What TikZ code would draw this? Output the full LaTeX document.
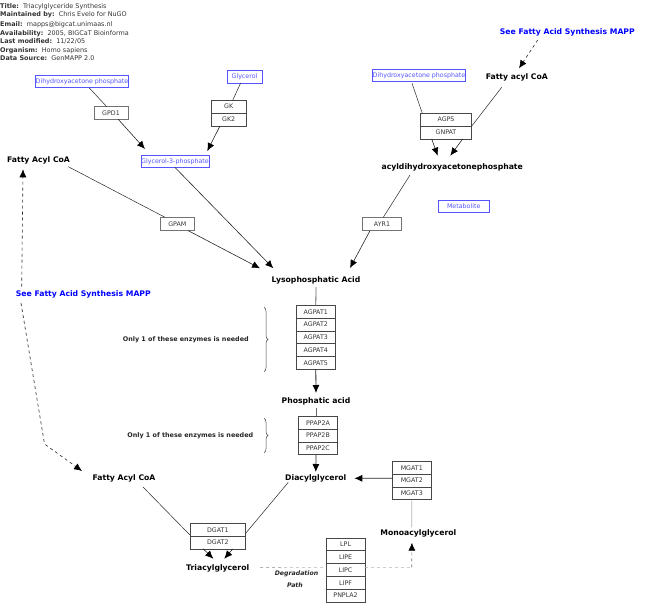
\documentclass[tikz,border=0pt]{standalone}
\usepackage{fontspec}
\setmainfont{DejaVu Sans}
\usepackage{xcolor}
\usepackage{tikz}
\usetikzlibrary{positioning, arrows.meta, decorations.pathreplacing}
\definecolor{metablue}{RGB}{85,85,255}
\tikzset{
    gene/.style={draw=black!72, line width=0.7pt, outer sep=0pt, minimum height=12.8pt, inner xsep=0pt, inner ysep=0pt, font=\fontsize{6.3}{7}\selectfont, text=black!80},
    lone/.style={gene, draw=black!55},
    metab/.style={draw=metablue, line width=0.7pt, outer sep=0pt, minimum height=12.3pt, inner xsep=0pt, inner ysep=0pt, font=\fontsize{6.3}{7}\selectfont, text=metablue},
    chem/.style={inner sep=0pt, yshift=-0.5pt, font=\fontsize{7.7}{9}\selectfont\bfseries},
    mapp/.style={inner sep=0pt, yshift=-0.5pt, font=\fontsize{7.7}{9}\selectfont\bfseries, text=blue},
    note/.style={inner sep=0pt, font=\fontsize{6.4}{7}\selectfont\bfseries, text=black!85},
    info/.style={inner sep=0pt, anchor=west, font=\fontsize{6.45}{7}\selectfont, text=black!80},
    link/.style={line width=0.5pt, black!85},
    react/.style={line width=0.6pt, black!85, -{Latex[length=8pt, width=7pt, black]}},
    trunk/.style={line width=0.8pt, black!60},
    dashreact/.style={react, dashed},
    pale/.style={line width=0.6pt, black!30},
    curly/.style={line width=0.5pt, black!75, decorate, decoration={brace, amplitude=4pt}}
}
\begin{document}
\begin{tikzpicture}[x=1pt, y=-1pt]
    \useasboundingbox (0,0) rectangle (655,611);
    \node[info] (title) at (0,6.5) {\textbf{Title:}\ \ Triacylglyceride Synthesis};
    \node[info] (maintainer) at (0,15.2) {\textbf{Maintained by:}\ \ Chris Evelo for NuGO};
    \node[info] (email) at (0,24.3) {\textbf{Email:}\ \ mapps@bigcat.unimaas.nl};
    \node[info] (avail) at (0,33.5) {\textbf{Availability:}\ \ 2005, BIGCaT Bioinforma};
    \node[info] (modified) at (0,41.8) {\textbf{Last modified:}\ \ 11/22/05};
    \node[info] (organism) at (0,50.7) {\textbf{Organism:}\ \ Homo sapiens};
    \node[info] (source) at (0,58.5) {\textbf{Data Source:}\ \ GenMAPP 2.0};

    \node[metab, minimum width=92pt] (dhapa) at (82,81.5) {Dihydroxyacetone phosphate};
    \node[lone, minimum width=34pt] (gpd) at (111,113) {GPD1};
    \node[metab, minimum width=35pt] (glycerol) at (244.5,76.7) {Glycerol};
    \node[gene, minimum width=35pt] (gk) at (228.7,106.7) {GK};
    \node[gene, minimum width=35pt, below = 0pt of gk] (gktwo) {GK2};
    \node[metab, minimum width=68pt] (gthreep) at (175,161.3) {Glycerol-3-phosphate};
    \node[chem] (acyla) at (38.5,160) {Fatty Acyl CoA};
    \node[lone, minimum width=34pt, minimum height=13.4pt] (gpam) at (177.3,224) {GPAM};

    \node[mapp] (mappa) at (567.3,32) {See Fatty Acid Synthesis MAPP};
    \node[chem] (acylb) at (516.8,76.7) {Fatty acyl CoA};
    \node[metab, minimum width=91pt] (dhapb) at (419,75.5) {Dihydroxyacetone phosphate};
    \node[gene, minimum width=51.4pt] (agps) at (446,119.7) {AGPS};
    \node[gene, minimum width=51.4pt, below = 0pt of agps] (gnpat) {GNPAT};
    \node[chem] (acyldhap) at (452.2,166.7) {acyldihydroxyacetonephosphate};
    \node[metab, minimum width=51pt] (metabolite) at (463.7,206.5) {Metabolite};
    \node[lone, minimum width=38.6pt, minimum height=13.4pt] (ayr) at (382,224) {AYR1};

    \node[chem] (lyso) at (316,280) {Lysophosphatic Acid};
    \node[gene, minimum width=38.4pt] (agpata) at (315.8,311.7) {AGPAT1};
    \node[gene, minimum width=38.4pt, below = 0pt of agpata] (agpatb) {AGPAT2};
    \node[gene, minimum width=38.4pt, below = 0pt of agpatb] (agpatc) {AGPAT3};
    \node[gene, minimum width=38.4pt, below = 0pt of agpatc] (agpatd) {AGPAT4};
    \node[gene, minimum width=38.4pt, below = 0pt of agpatd] (agpate) {AGPAT5};
    \node[chem] (phos) at (316,401.3) {Phosphatic acid};
    \node[gene, minimum width=38.4pt] (ppapa) at (318,422.7) {PPAP2A};
    \node[gene, minimum width=38.4pt, below = 0pt of ppapa] (ppapb) {PPAP2B};
    \node[gene, minimum width=38.4pt, below = 0pt of ppapb] (ppapc) {PPAP2C};
    \node[chem] (diacyl) at (315.8,478.3) {Diacylglycerol};
    \node[gene, minimum width=38.4pt] (mgata) at (411.8,467.7) {MGAT1};
    \node[gene, minimum width=38.4pt, below = 0pt of mgata] (mgatb) {MGAT2};
    \node[gene, minimum width=38.4pt, below = 0pt of mgatb] (mgatc) {MGAT3};
    \node[chem] (mono) at (418.3,533.3) {Monoacylglycerol};

    \node[chem] (acylc) at (124,478) {Fatty Acyl CoA};
    \node[gene, minimum width=55.7pt] (dgata) at (217.8,529.7) {DGAT1};
    \node[gene, minimum width=55.7pt, below = 0pt of dgata] (dgatb) {DGAT2};
    \node[chem] (tri) at (217.7,568) {Triacylglycerol};
    \node[gene, minimum width=38.7pt] (lpl) at (345.6,544.4) {LPL};
    \node[gene, minimum width=38.7pt, below = 0pt of lpl] (lipe) {LIPE};
    \node[gene, minimum width=38.7pt, below = 0pt of lipe] (lipc) {LIPC};
    \node[gene, minimum width=38.7pt, below = 0pt of lipc] (lipf) {LIPF};
    \node[gene, minimum width=38.7pt, below = 0pt of lipf] (pnpla) {PNPLA2};
    \node[note, font=\fontsize{6.2}{7}\selectfont\bfseries\itshape] (degrad) at (296.5,574.3) {Degradation};
    \node[note, font=\fontsize{6.2}{7}\selectfont\bfseries\itshape] (path) at (295,585) {Path};

    \node[mapp] (mappb) at (83.3,294.3) {See Fatty Acid Synthesis MAPP};
    \node[note] (onea) at (185.8,339.3) {Only 1 of these enzymes is needed};
    \node[note] (oneb) at (190.3,435.3) {Only 1 of these enzymes is needed};
    \coordinate (bend) at (44.5,444);
    \coordinate (turn) at (411.7,567.3);

    \draw[link] ([xshift=7.3pt,yshift=-6.5pt]dhapa.center) -- ([xshift=-4.3pt]gpd.north);
    \draw[react] ([xshift=7.3pt]gpd.south) -- ([xshift=-30pt,yshift=12.3pt]gthreep.center);
    \draw[link] ([xshift=-3.8pt]glycerol.south) -- ([xshift=4pt]gk.north);
    \draw[react] ([xshift=-8.7pt]gktwo.south) -- ([xshift=32.3pt,yshift=10.3pt]gthreep.center);
    \draw[link] ([xshift=29.8pt,yshift=-6.2pt]acyla.center) -- ([xshift=-12.3pt]gpam.north);
    \draw[react] ([xshift=11pt]gpam.south) -- ([xshift=-56pt,yshift=12.2pt]lyso.center);
    \draw[react] (gthreep.south) -- ([xshift=-42.7pt,yshift=12.2pt]lyso.center);
    \draw[dashreact] ([xshift=-29.6pt,yshift=-7.5pt]mappa.center) -- ([xshift=2.2pt,yshift=8.9pt]acylb.center);
    \draw[link] ([xshift=-7pt,yshift=-1.6pt]dhapb.south) -- ([xshift=-23.7pt]agps.north);
    \draw[link] ([xshift=-15.1pt,yshift=-10.1pt]acylb.center) -- (agps.south east);
    \draw[react] ([xshift=-14.3pt]gnpat.south) -- ([xshift=-14.5pt,yshift=11.5pt]acyldhap.center);
    \draw[react] ([xshift=16.7pt]gnpat.south) -- ([xshift=-1.9pt,yshift=11.5pt]acyldhap.center);
    \draw[link] ([xshift=-42.2pt,yshift=-7.8pt]acyldhap.center) -- ([xshift=1.3pt]ayr.north);
    \draw[react] ([xshift=-12pt]ayr.south) -- ([xshift=34pt,yshift=12.5pt]lyso.center);
    \draw[trunk] ([yshift=-6.5pt]lyso.center) -- (agpata.north);
    \draw[trunk, black!85, -{Latex[length=8pt, width=7pt, black]}] (agpate.south) -- ([yshift=8.8pt]phos.center);
    \draw[trunk] ([yshift=-6.2pt]phos.center) -- ([xshift=-2pt]ppapa.north);
    \draw[trunk, black!85, -{Latex[length=8pt, width=7pt, black]}] ([xshift=-2pt]ppapc.south) -- ([yshift=6.8pt]diacyl.center);
    \draw[trunk, black!85, -{Latex[length=8pt, width=7pt, black]}] ([yshift=2.2pt]mgatb.west) -- ([xshift=38.5pt,yshift=0.5pt]diacyl.center);
    \draw[pale] (mgatc.south) -- ([xshift=-6.6pt,yshift=6.5pt]mono.center);
    \draw[link] ([xshift=-27.5pt,yshift=-3.5pt]diacyl.center) -- ([yshift=-3.6pt]dgata.east);
    \draw[link] ([xshift=19pt,yshift=-8.5pt]acylc.center) -- ([yshift=-5.3pt]dgata.west);
    \draw[react] ([xshift=-14.5pt]dgatb.south) -- ([xshift=-4.4pt,yshift=9.8pt]tri.center);
    \draw[react] ([xshift=15pt]dgatb.south) -- ([xshift=6.6pt,yshift=9.8pt]tri.center);
    \draw[pale, dashed] ([xshift=42.3pt,yshift=1pt]tri.center) -- ([yshift=2.7pt]lipc.west);
    \draw[pale, dashed] ([yshift=2.7pt]lipc.east) -- (turn);
    \draw[dashreact, black!55, -{Latex[length=8pt, width=7pt, black]}] (turn) -- ([xshift=-6.4pt,yshift=-8.9pt]mono.center);
    \draw[dashreact] ([xshift=-61.6pt,yshift=8.1pt]mappb.center) -- ([xshift=-15.5pt,yshift=-8.8pt]acyla.center);
    \draw[dashreact] ([xshift=-62.3pt,yshift=-8.2pt]mappb.center) -- (bend) -- ([xshift=-42pt,yshift=7.5pt]acylc.center);
    \draw[curly] (264,307.3) -- (264,371.7);
    \draw[curly] (264,418.3) -- (264,452.7);
\end{tikzpicture}
\end{document}
